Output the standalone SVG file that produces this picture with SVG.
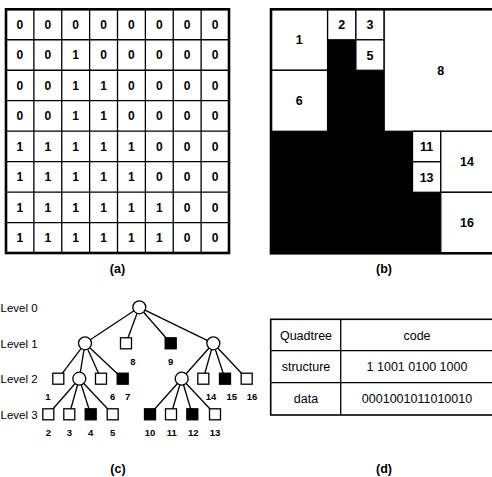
<svg xmlns="http://www.w3.org/2000/svg" width="492" height="477" viewBox="0 0 492 477">
<style>
.bg{fill:#fff}
.frame{fill:none;stroke:#000;stroke-width:2.6}
.ln{fill:none;stroke:#000;stroke-width:1.3}
.d{font-family:"Liberation Sans",Arial,sans-serif;font-size:12px;font-weight:bold;text-anchor:middle;fill:#000}
.q{font-family:"Liberation Sans",Arial,sans-serif;font-size:12.5px;font-weight:bold;text-anchor:middle;fill:#000}
.wc{fill:#fff;stroke:#000;stroke-width:1.3}
.nd{fill:#fff;stroke:#000;stroke-width:1.3}
.blk{fill:#000;stroke:#000;stroke-width:1.3}
.tl{font-family:"Liberation Sans",Arial,sans-serif;font-size:9.5px;font-weight:bold;text-anchor:middle;fill:#000}
.lv{font-family:"Liberation Sans",Arial,sans-serif;font-size:11.5px;fill:#000}
.tb{font-family:"Liberation Sans",Arial,sans-serif;font-size:12.5px;text-anchor:middle;fill:#000}
.cap{font-family:"Liberation Sans",Arial,sans-serif;font-size:12.5px;font-weight:bold;text-anchor:middle;fill:#000}
</style>
<rect class="bg" x="0" y="0" width="492" height="477"/>

<!-- (a) binary grid -->
<g id="grid-a">
<path class="ln" d="M33.875 9.3V253M61.75 9.3V253M89.625 9.3V253M117.5 9.3V253M145.375 9.3V253M173.25 9.3V253M201.125 9.3V253M6 39.76H229M6 70.23H229M6 100.69H229M6 131.15H229M6 161.61H229M6 192.08H229M6 222.54H229"/>
<rect class="frame" x="6" y="9.3" width="223" height="243.7"/>
<g class="d">
<text x="19.94" y="28.8">0</text><text x="47.81" y="28.8">0</text><text x="75.69" y="28.8">0</text><text x="103.56" y="28.8">0</text><text x="131.44" y="28.8">0</text><text x="159.31" y="28.8">0</text><text x="187.19" y="28.8">0</text><text x="215.06" y="28.8">0</text>
<text x="19.94" y="59.3">0</text><text x="47.81" y="59.3">0</text><text x="75.69" y="59.3">1</text><text x="103.56" y="59.3">0</text><text x="131.44" y="59.3">0</text><text x="159.31" y="59.3">0</text><text x="187.19" y="59.3">0</text><text x="215.06" y="59.3">0</text>
<text x="19.94" y="89.8">0</text><text x="47.81" y="89.8">0</text><text x="75.69" y="89.8">1</text><text x="103.56" y="89.8">1</text><text x="131.44" y="89.8">0</text><text x="159.31" y="89.8">0</text><text x="187.19" y="89.8">0</text><text x="215.06" y="89.8">0</text>
<text x="19.94" y="120.2">0</text><text x="47.81" y="120.2">0</text><text x="75.69" y="120.2">1</text><text x="103.56" y="120.2">1</text><text x="131.44" y="120.2">0</text><text x="159.31" y="120.2">0</text><text x="187.19" y="120.2">0</text><text x="215.06" y="120.2">0</text>
<text x="19.94" y="150.7">1</text><text x="47.81" y="150.7">1</text><text x="75.69" y="150.7">1</text><text x="103.56" y="150.7">1</text><text x="131.44" y="150.7">1</text><text x="159.31" y="150.7">0</text><text x="187.19" y="150.7">0</text><text x="215.06" y="150.7">0</text>
<text x="19.94" y="181.1">1</text><text x="47.81" y="181.1">1</text><text x="75.69" y="181.1">1</text><text x="103.56" y="181.1">1</text><text x="131.44" y="181.1">1</text><text x="159.31" y="181.1">0</text><text x="187.19" y="181.1">0</text><text x="215.06" y="181.1">0</text>
<text x="19.94" y="211.6">1</text><text x="47.81" y="211.6">1</text><text x="75.69" y="211.6">1</text><text x="103.56" y="211.6">1</text><text x="131.44" y="211.6">1</text><text x="159.31" y="211.6">1</text><text x="187.19" y="211.6">0</text><text x="215.06" y="211.6">0</text>
<text x="19.94" y="242.1">1</text><text x="47.81" y="242.1">1</text><text x="75.69" y="242.1">1</text><text x="103.56" y="242.1">1</text><text x="131.44" y="242.1">1</text><text x="159.31" y="242.1">1</text><text x="187.19" y="242.1">0</text><text x="215.06" y="242.1">0</text>
</g>
</g>
<text class="cap" x="117.5" y="272.5">(a)</text>

<!-- (b) quadtree blocks -->
<g id="blocks-b">
<polygon fill="#000" points="327.6,39.8 355.9,39.8 355.9,70.3 384.2,70.3 384.2,131.3 412.5,131.3 412.5,192.3 440.8,192.3 440.8,253.3 271,253.3 271,131.3 327.6,131.3"/>
<rect class="wc" x="271" y="9.3" width="56.6" height="61"/>
<rect class="wc" x="327.6" y="9.3" width="28.3" height="30.5"/>
<rect class="wc" x="355.9" y="9.3" width="28.3" height="30.5"/>
<rect class="wc" x="355.9" y="39.8" width="28.3" height="30.5"/>
<rect class="wc" x="271" y="70.3" width="56.6" height="61"/>
<rect class="wc" x="384.2" y="9.3" width="113.2" height="122"/>
<rect class="wc" x="412.5" y="131.3" width="28.3" height="30.5"/>
<rect class="wc" x="412.5" y="161.8" width="28.3" height="30.5"/>
<rect class="wc" x="440.8" y="131.3" width="56.6" height="61"/>
<rect class="wc" x="440.8" y="192.3" width="56.6" height="61"/>
<rect class="frame" x="271" y="9.3" width="226.4" height="244"/>
<g class="q">
<text x="299.3" y="44.3">1</text>
<text x="341.7" y="29">2</text>
<text x="370" y="29">3</text>
<text x="370" y="59.5">5</text>
<text x="440.8" y="74.8">8</text>
<text x="299.3" y="105.3">6</text>
<text x="426.6" y="151">11</text>
<text x="426.6" y="181.5">13</text>
<text x="467" y="166.3">14</text>
<text x="467" y="227.3">16</text>
</g>
</g>
<text class="cap" x="384" y="272.5">(b)</text>

<!-- (c) tree -->
<g class="lv">
<text x="0.5" y="311.5">Level 0</text>
<text x="0.5" y="347.5">Level 1</text>
<text x="0.5" y="383">Level 2</text>
<text x="0.5" y="418.5">Level 3</text>
</g>
<g id="connectors" class="ln">
<line x1="139.3" y1="307.3" x2="85" y2="343.3"/>
<line x1="139.3" y1="307.3" x2="126" y2="343.3"/>
<line x1="139.3" y1="307.3" x2="170.7" y2="343.3"/>
<line x1="139.3" y1="307.3" x2="213.3" y2="343.3"/>
<line x1="85" y1="343.3" x2="58.3" y2="378.7"/>
<line x1="85" y1="343.3" x2="79.3" y2="378.7"/>
<line x1="85" y1="343.3" x2="101" y2="378.7"/>
<line x1="85" y1="343.3" x2="122.7" y2="378.7"/>
<line x1="213.3" y1="343.3" x2="181.7" y2="378.7"/>
<line x1="213.3" y1="343.3" x2="203.3" y2="378.7"/>
<line x1="213.3" y1="343.3" x2="225" y2="378.7"/>
<line x1="213.3" y1="343.3" x2="246.7" y2="378.7"/>
<line x1="79.3" y1="378.7" x2="48.3" y2="414.3"/>
<line x1="79.3" y1="378.7" x2="69.3" y2="414.3"/>
<line x1="79.3" y1="378.7" x2="90.7" y2="414.3"/>
<line x1="79.3" y1="378.7" x2="112.7" y2="414.3"/>
<line x1="181.7" y1="378.7" x2="150" y2="414.3"/>
<line x1="181.7" y1="378.7" x2="171" y2="414.3"/>
<line x1="181.7" y1="378.7" x2="192.3" y2="414.3"/>
<line x1="181.7" y1="378.7" x2="215" y2="414.3"/>
</g>
<g id="root"><circle class="nd" cx="139.3" cy="307.3" r="6.5"/></g>
<g id="l1-left"><circle class="nd" cx="85" cy="343.3" r="6.5"/></g>
<g id="n8"><rect class="nd" x="120.5" y="337.8" width="11" height="11"/><text class="tl" x="133" y="364.5">8</text></g>
<g id="n9"><rect class="blk" x="165.2" y="337.8" width="11" height="11"/><text class="tl" x="170.7" y="364.5">9</text></g>
<g id="l1-right"><circle class="nd" cx="213.3" cy="343.3" r="6.5"/></g>
<g id="n1"><rect class="nd" x="52.8" y="373.2" width="11" height="11"/><text class="tl" x="48" y="400">1</text></g>
<g id="l2-left"><circle class="nd" cx="79.3" cy="378.7" r="6.5"/></g>
<g id="n6"><rect class="nd" x="95.5" y="373.2" width="11" height="11"/><text class="tl" x="112.7" y="400">6</text></g>
<g id="n7"><rect class="blk" x="117.2" y="373.2" width="11" height="11"/><text class="tl" x="127.7" y="400">7</text></g>
<g id="l2-right"><circle class="nd" cx="181.7" cy="378.7" r="6.5"/></g>
<g id="n14"><rect class="nd" x="197.8" y="373.2" width="11" height="11"/><text class="tl" x="211" y="400">14</text></g>
<g id="n15"><rect class="blk" x="219.5" y="373.2" width="11" height="11"/><text class="tl" x="231.7" y="400">15</text></g>
<g id="n16"><rect class="nd" x="241.2" y="373.2" width="11" height="11"/><text class="tl" x="252" y="400">16</text></g>
<g id="n2"><rect class="nd" x="42.8" y="408.8" width="11" height="11"/><text class="tl" x="48.3" y="435.5">2</text></g>
<g id="n3"><rect class="nd" x="63.8" y="408.8" width="11" height="11"/><text class="tl" x="69.3" y="435.5">3</text></g>
<g id="n4"><rect class="blk" x="85.2" y="408.8" width="11" height="11"/><text class="tl" x="90.7" y="435.5">4</text></g>
<g id="n5"><rect class="nd" x="107.2" y="408.8" width="11" height="11"/><text class="tl" x="112.7" y="435.5">5</text></g>
<g id="n10"><rect class="blk" x="144.5" y="408.8" width="11" height="11"/><text class="tl" x="150" y="435.5">10</text></g>
<g id="n11"><rect class="nd" x="165.5" y="408.8" width="11" height="11"/><text class="tl" x="171.7" y="435.5">11</text></g>
<g id="n12"><rect class="blk" x="186.8" y="408.8" width="11" height="11"/><text class="tl" x="193.3" y="435.5">12</text></g>
<g id="n13"><rect class="nd" x="209.5" y="408.8" width="11" height="11"/><text class="tl" x="215" y="435.5">13</text></g>
<text class="cap" x="118" y="472.5">(c)</text>

<!-- (d) table -->
<g id="table-d">
<rect x="270.7" y="319.3" width="223" height="95.7" fill="none" stroke="#000" stroke-width="1.6"/>
<path class="ln" d="M340.7 319.3V415M270.7 350.7H494M270.7 382.7H494" stroke-width="1.6"/>
<text class="tb" x="306" y="339.5">Quadtree</text>
<text class="tb" x="417" y="339.5">code</text>
<text class="tb" x="306" y="371.2">structure</text>
<text class="tb" x="417" y="371.2">1 1001 0100 1000</text>
<text class="tb" x="306" y="403">data</text>
<text class="tb" x="417" y="403">0001001011010010</text>
</g>
<text class="cap" x="384" y="472.5">(d)</text>
</svg>
